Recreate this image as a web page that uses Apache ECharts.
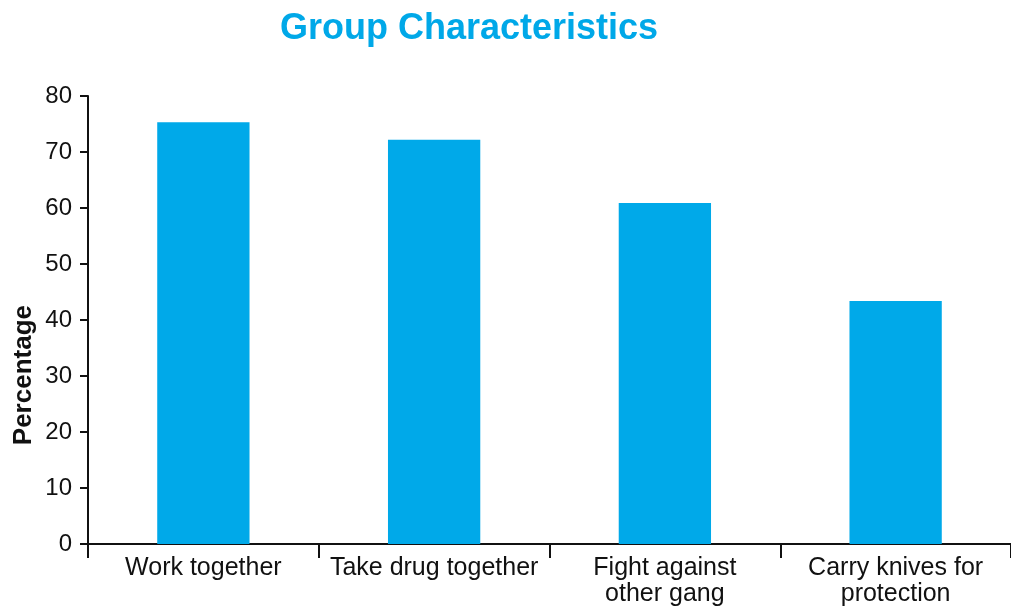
<!DOCTYPE html>
<html>
<head>
<meta charset="utf-8">
<script src="https://cdn.jsdelivr.net/npm/echarts@6/dist/echarts.min.js"></script>
<style>
  html, body { margin: 0; padding: 0; background: #fff; }
  #chart { width: 1011px; height: 609px; }
</style>
</head>
<body>
<div id="chart"></div>
<script>
// Share of gang members reporting each group activity
const categories = [
  'Work together',
  'Take drug together',
  'Fight against\nother gang',
  'Carry knives for\nprotection'
];
const percentages = [75.3, 72.2, 60.9, 43.4];
const yTicks = { min: 0, max: 80, interval: 10 };

const chart = echarts.init(document.getElementById('chart'));
const textFont = 'Liberation Sans, Arial, sans-serif';

chart.setOption({
  animation: false,
  title: {
    text: 'Group Characteristics',
    left: 464,
    top: 6,
    textAlign: 'center',
    textStyle: {
      color: '#00a8e8',
      fontSize: 36,
      fontWeight: 'bold',
      fontFamily: textFont
    }
  },
  graphic: [{
    type: 'text',
    left: 11,
    top: 305,
    rotation: Math.PI / 2,
    style: {
      text: 'Percentage',
      fill: '#111',
      font: 'bold 26px ' + textFont
    }
  }],
  grid: { left: 88, right: -5, top: 96, bottom: 65, containLabel: false },
  xAxis: {
    type: 'category',
    data: categories,
    axisLine: { lineStyle: { color: '#111', width: 2 } },
    axisTick: { show: true, length: 14, lineStyle: { color: '#111', width: 2 } },
    axisLabel: {
      color: '#111',
      fontSize: 25,
      fontFamily: textFont,
      margin: 11,
      lineHeight: 26,
      interval: 0
    }
  },
  yAxis: {
    type: 'value',
    min: yTicks.min,
    max: yTicks.max,
    interval: yTicks.interval,
    splitLine: { show: false },
    axisLine: { show: true, lineStyle: { color: '#111', width: 2 } },
    axisTick: { show: true, length: 8, lineStyle: { color: '#111', width: 2 } },
    axisLabel: {
      color: '#111',
      fontSize: 24,
      fontFamily: textFont,
      margin: 16
    }
  },
  series: [{
    type: 'bar',
    data: percentages,
    barWidth: '40%',
    itemStyle: { color: '#00a9e9' }
  }]
});
</script>
</body>
</html>
